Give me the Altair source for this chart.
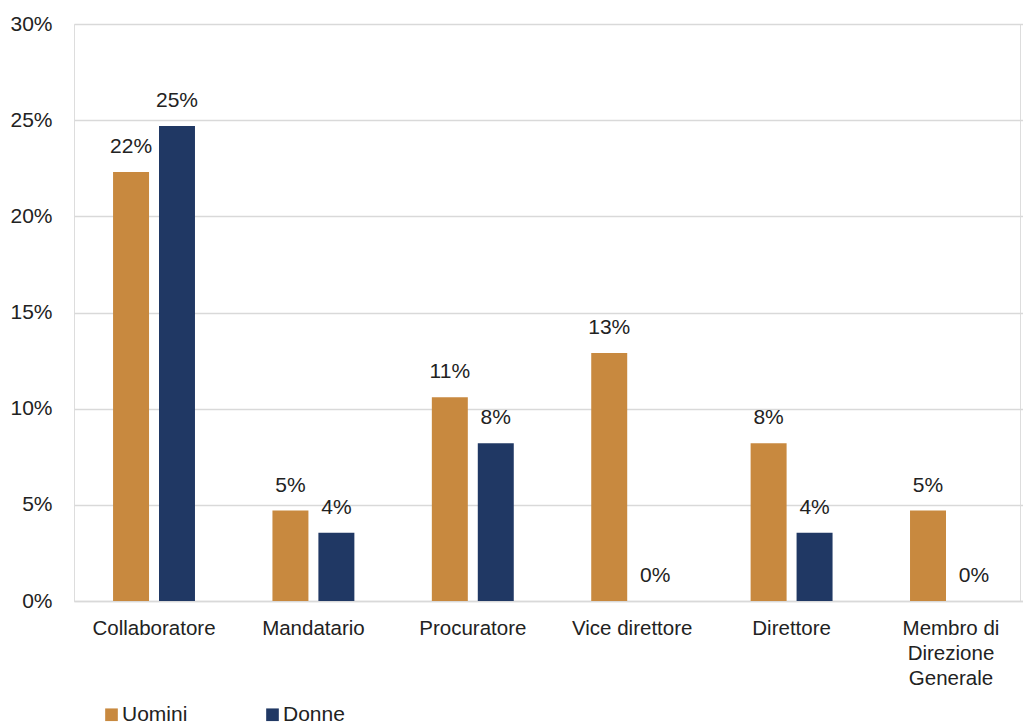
import altair as alt
import pandas as pd

categories = ["Collaboratore", "Mandatario", "Procuratore", "Vice direttore", "Direttore", "Membro di|Direzione|Generale"]
uomini = [22.3, 4.7, 10.6, 12.9, 8.2, 4.7]
donne = [24.7, 3.55, 8.2, 0.0, 3.55, 0.0]
series = ["Uomini", "Donne"]
colors = ["#C8893F", "#203864"]

rows = []
for c, u, d in zip(categories, uomini, donne):
    rows.append({"cat": c, "serie": "Uomini", "val": u / 100})
    rows.append({"cat": c, "serie": "Donne", "val": d / 100})
df = pd.DataFrame(rows)

FONT = "Liberation Sans"

base = alt.Chart(df).encode(
    x=alt.X("cat:N", sort=categories, title=None,
            scale=alt.Scale(paddingInner=0.486, paddingOuter=0.245, range=[0, 957]),
            axis=alt.Axis(labelAngle=0, labelFontSize=20.5, labelFont=FONT, labelColor="#222222",
                          labelPadding=17, labelLineHeight=25, ticks=False,
                          domainColor="#d9d9d9", domainWidth=1.5,
                          labelExpr="split(datum.label, '|')", labelLimit=300)),
    xOffset=alt.XOffset("serie:N", sort=series, scale=alt.Scale(paddingInner=0.217)),
)

bars = base.mark_bar().encode(
    y=alt.Y("val:Q", title=None,
            scale=alt.Scale(domain=[0, 0.30]),
            axis=alt.Axis(format=".0%", values=[0, 0.05, 0.10, 0.15, 0.20, 0.25, 0.30],
                          labelFontSize=21, labelFont=FONT, labelColor="#222222",
                          labelPadding=22, ticks=False, domain=False,
                          gridColor="#d9d9d9", gridWidth=1.5)),
    color=alt.Color("serie:N", sort=series,
                    scale=alt.Scale(domain=series, range=colors),
                    legend=alt.Legend(title=None, orient="none", legendX=27, legendY=680,
                                      direction="horizontal", symbolType="square",
                                      symbolSize=160, symbolStrokeWidth=0,
                                      labelFontSize=21, labelFont=FONT, labelColor="#222222",
                                      labelOffset=0, columnPadding=74)),
)

labels = base.mark_text(baseline="bottom", dy=-15, fontSize=21, font=FONT, color="#222222").encode(
    y=alt.Y("val:Q"),
    text=alt.Text("val:Q", format=".0%"),
)

chart = (bars + labels).properties(
    width=946, height=577,
    autosize=alt.AutoSizeParams(type="none"),
    padding={"left": 74, "top": 24, "right": 3, "bottom": 123},
).configure_view(stroke=None).configure(background="white")

chart.save("out.html", embed_options={"renderer": "svg", "actions": False})
